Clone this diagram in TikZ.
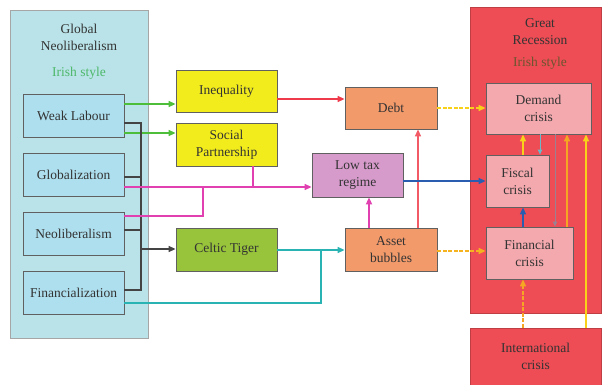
\documentclass[tikz,border=0pt]{standalone}
\usepackage{fontspec}
\setmainfont{Liberation Serif}
\usetikzlibrary{arrows.meta}
\definecolor{txt}{HTML}{333333}
\definecolor{panelL}{HTML}{B9E3E8}
\definecolor{boxL}{HTML}{AEDFEE}
\definecolor{yel}{HTML}{F2EC1C}
\definecolor{grn}{HTML}{97C43A}
\definecolor{org}{HTML}{F39A6B}
\definecolor{pur}{HTML}{D69BCB}
\definecolor{redP}{HTML}{EE4D55}
\definecolor{pinkB}{HTML}{F4A9AE}
\definecolor{irishG}{HTML}{4DB86A}
\definecolor{irishR}{HTML}{6B5530}
\definecolor{cGreen}{HTML}{4DBE3A}
\definecolor{cRed}{HTML}{EE3A4A}
\definecolor{cRed2}{HTML}{F25A66}
\definecolor{cMag}{HTML}{E040B0}
\definecolor{cTeal}{HTML}{2AB3B3}
\definecolor{cBlue}{HTML}{2A5CB0}
\definecolor{cYel}{HTML}{F8D21A}
\definecolor{cOrg}{HTML}{F5A623}
\definecolor{cTeal2}{HTML}{6CB8C8}
\definecolor{cGray}{HTML}{9A8090}
\definecolor{cBlk}{HTML}{444444}
\tikzset{
  every node/.style={font=\fontsize{13.5}{17}\selectfont, text=txt, align=center, inner sep=0pt},
  panel/.style={draw=gray!70, line width=0.8pt},
  box/.style={draw=gray!75!black, line width=0.8pt},
  arr/.style={line width=1.4pt, -{Triangle[length=7pt,width=6pt]}},
  ln/.style={line width=1.4pt},
}
\begin{document}
\begin{tikzpicture}[x=1pt,y=-1pt]
\useasboundingbox (0,0) rectangle (602,385);
% panels
\node[panel, fill=panelL, minimum width=138, minimum height=328] (gn) at (79,174) {};
\node (gnt) at (79,37) {Global\\Neoliberalism};
\node[text=irishG] (gni) at (79,73) {Irish style};
\node[panel, fill=redP, draw=redP!80!black, minimum width=131, minimum height=306] (gr) at (535.5,160) {};
\node (grt) at (540,32) {Great\\Recession};
\node[text=irishR] (gri) at (540,63) {Irish style};
% left boxes
\node[box, fill=boxL, minimum width=101, minimum height=43] (wl) at (73.5,115.5) {Weak Labour};
\node[box, fill=boxL, minimum width=101, minimum height=43] (gl) at (73.5,174.5) {Globalization};
\node[box, fill=boxL, minimum width=101, minimum height=43] (ne) at (73.5,233.5) {Neoliberalism};
\node[box, fill=boxL, minimum width=101, minimum height=43] (fi) at (73.5,292.5) {Financialization};
% middle
\node[box, fill=yel, minimum width=101, minimum height=42] (iq) at (226.5,91) {Inequality};
\node[box, fill=yel, minimum width=101, minimum height=43] (sp) at (226.5,144.5) {Social\\Partnership};
\node[box, fill=grn, minimum width=101, minimum height=43] (ct) at (226.5,249.5) {Celtic Tiger};
\node[box, fill=org, minimum width=92, minimum height=42] (db) at (391,108) {Debt};
\node[box, fill=pur, minimum width=91, minimum height=44] (lt) at (357.5,175) {Low tax\\regime};
\node[box, fill=org, minimum width=92, minimum height=43] (ab) at (391,249.5) {Asset\\bubbles};
% right
\node[box, fill=pinkB, minimum width=105, minimum height=51] (dc) at (538.5,108.5) {Demand\\crisis};
\node[box, fill=pinkB, minimum width=63, minimum height=52] (fc) at (517.5,181) {Fiscal\\crisis};
\node[box, fill=pinkB, minimum width=87, minimum height=52] (fn) at (529.5,253) {Financial\\crisis};
\node[panel, fill=redP, draw=redP!80!black, minimum width=131, minimum height=57] (ic) at (535.5,356.5) {International\\crisis};
% coordinates
\coordinate (bx) at (141,0);
\coordinate (mx) at (203,0);
\coordinate (tx) at (321,0);
\path ([yshift=11.5pt]wl.east) coordinate (g1)
      ([yshift=-17.5pt]wl.east) coordinate (g2)
      ([yshift=-7.5pt]wl.east) coordinate (b1)
      ([yshift=-2.5pt]gl.east) coordinate (b2)
      ([yshift=3.5pt]ne.east) coordinate (b3)
      ([yshift=2.5pt]fi.east) coordinate (b4)
      ([yshift=0.5pt]ct.west) coordinate (c1)
      ([yshift=-12.5pt]gl.east) coordinate (m1)
      ([xshift=26.5pt]sp.south) coordinate (m2)
      ([yshift=17.5pt]ne.east) coordinate (m3)
      ([yshift=-10.5pt]fi.east) coordinate (t1)
      ([yshift=-0.5pt]ct.east) coordinate (t2)
      ([yshift=-8pt]iq.east) coordinate (r1)
      ([xshift=27pt]ab.north) coordinate (r2)
      ([xshift=-22pt]ab.north) coordinate (p1)
      ([yshift=-6pt]lt.east) coordinate (u1)
      ([yshift=-1.5pt]ab.east) coordinate (a1)
      ([xshift=5.5pt]fc.north) coordinate (y1)
      ([xshift=1.5pt]dc.south) coordinate (k1)
      ([xshift=16.5pt]dc.south) coordinate (k2)
      ([xshift=28.5pt]dc.south) coordinate (k3)
      ([xshift=47.5pt]dc.south) coordinate (k4)
      ([xshift=-6.5pt]fn.south) coordinate (k5);
% green
\draw[arr, cGreen] (g1) -- (g1 -| iq.west);
\draw[arr, cGreen] (g2) -- (g2 -| sp.west);
% black bracket
\draw[ln, cBlk] (b1) -- (b1 -| bx) -- (b4 -| bx) -- (b4);
\draw[ln, cBlk] (b2) -- (b2 -| bx);
\draw[ln, cBlk] (b3) -- (b3 -| bx);
\draw[arr, cBlk] (c1 -| bx) -- (c1);
% magenta
\draw[arr, cMag] (m1) -- (m1 -| lt.west);
\draw[ln, cMag] (m2) -- (m2 |- m1);
\draw[ln, cMag] (m3) -- (m3 -| mx) -- (mx |- m1);
% teal
\draw[arr, cTeal] (t2) -- (t2 -| ab.west);
\draw[ln, cTeal] (t1) -- (t1 -| tx) -- (tx |- t2);
% red
\draw[arr, cRed] (r1) -- (r1 -| db.west);
\draw[arr, cRed2] (r2) -- (r2 |- db.south);
\draw[arr, cMag, line width=2pt] (p1) -- (p1 |- lt.south);
% to recession
\draw[arr, cYel, dash pattern=on 4pt off 1.5pt] (db.east) -- (db.east -| dc.west);
\draw[arr, cBlue] (u1) -- (u1 -| fc.west);
\draw[arr, cOrg!70!cYel, dash pattern=on 4pt off 1.5pt] (a1) -- (a1 -| fn.west);
% inside recession
\draw[arr, cYel] (y1) -- (y1 |- dc.south);
\draw[cTeal2, line width=1pt, -{Triangle[length=5pt,width=4.5pt]}] (k1) -- (k1 |- fc.north);
\draw[cGray, line width=1pt, -{Triangle[length=5pt,width=4.5pt]}] (k2) -- (k2 |- fn.north);
\draw[arr, cOrg] (k3 |- fn.north) -- (k3);
\draw[arr, cYel] (k4 |- ic.north) -- (k4);
\draw[arr, cBlue] (y1 |- fn.north) -- (y1 |- fc.south);
\draw[arr, cOrg, dash pattern=on 4pt off 1.5pt] (k5 |- ic.north) -- (k5);
\end{tikzpicture}
\end{document}
